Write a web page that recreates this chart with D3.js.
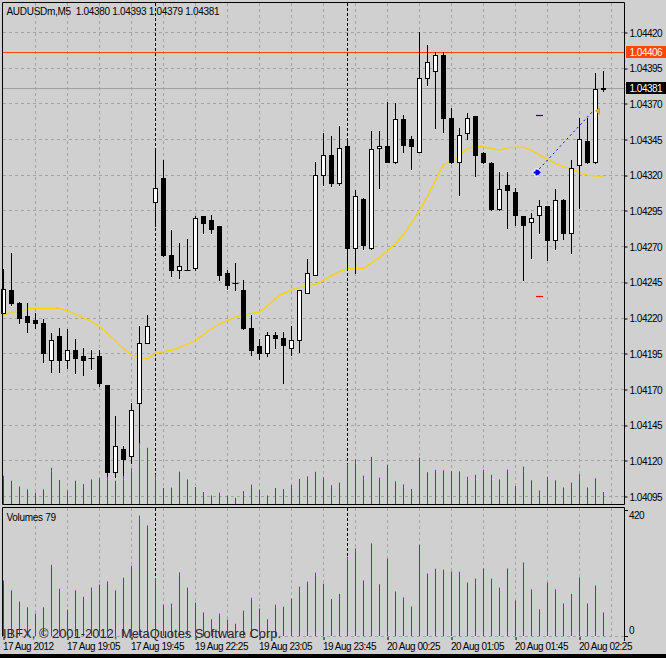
<!DOCTYPE html>
<html lang="en">
<head>
<meta charset="utf-8">
<title>AUDUSDm,M5</title>
<script src="https://d3js.org/d3.v7.min.js"></script>
<style>
  body { margin:0; background:#d0d0d0; overflow:hidden; }
  svg text { font-family:"Liberation Sans", Arial, sans-serif; font-size:10px; fill:#000; }
  .lbl { letter-spacing:-0.5px; }
</style>
</head>
<body>
<svg id="chart" width="666" height="658"></svg>

<script>
// ---- data (M5 bars, oldest first) ----
const barOpen  = [1.04223,1.04239,1.04230,1.04221,1.04218,1.04216,1.04190,1.04207,1.04190,1.04197,
                  1.04193,1.04192,1.04193,1.04173,1.04112,1.04128,1.04123,1.04160,1.04202,1.04301,
                  1.04318,1.04264,1.04253,1.04253,1.04255,1.04291,1.04288,1.04284,1.04251,1.04244,
                  1.04239,1.04213,1.04200,1.04195,1.04208,1.04206,1.04199,1.04204,1.04237,1.04250,
                  1.04320,1.04334,1.04314,1.04340,1.04269,1.04303,1.04269,1.04339,1.04340,1.04329,
                  1.04359,1.04345,1.04336,1.04388,1.04393,1.04404,1.04360,1.04329,1.04349,1.04361,
                  1.04335,1.04328,1.04296,1.04313,1.04308,1.04291,1.04287,1.04292,1.04298,1.04274,
                  1.04302,1.04279,1.04327,1.04344,1.04329,1.04380];
const barHigh  = [1.04254,1.04265,1.04231,1.04230,1.04223,1.04219,1.04209,1.04213,1.04212,1.04205,
                  1.04199,1.04197,1.04197,1.04173,1.04151,1.04130,1.04160,1.04214,1.04222,1.04338,
                  1.04330,1.04281,1.04272,1.04275,1.04291,1.04291,1.04292,1.04284,1.04253,1.04258,
                  1.04246,1.04222,1.04205,1.04210,1.04210,1.04210,1.04214,1.04239,1.04261,1.04329,
                  1.04349,1.04347,1.04354,1.04345,1.04309,1.04304,1.04351,1.04351,1.04371,1.04370,
                  1.04362,1.04347,1.04420,1.04411,1.04406,1.04406,1.04367,1.04353,1.04363,1.04361,
                  1.04336,1.04329,1.04322,1.04322,1.04311,1.04291,1.04293,1.04302,1.04298,1.04310,
                  1.04303,1.04330,1.04360,1.04360,1.04391,1.04393];
const barLow   = [1.04223,1.04229,1.04216,1.04210,1.04213,1.04189,1.04182,1.04182,1.04185,1.04181,
                  1.04180,1.04184,1.04172,1.04109,1.04108,1.04110,1.04118,1.04133,1.04202,1.04284,
                  1.04263,1.04249,1.04248,1.04253,1.04253,1.04279,1.04279,1.04246,1.04240,1.04239,
                  1.04212,1.04194,1.04191,1.04193,1.04199,1.04174,1.04194,1.04196,1.04237,1.04250,
                  1.04313,1.04312,1.04313,1.04254,1.04251,1.04268,1.04268,1.04311,1.04329,1.04328,
                  1.04336,1.04324,1.04336,1.04383,1.04353,1.04350,1.04328,1.04306,1.04345,1.04319,
                  1.04328,1.04295,1.04295,1.04283,1.04285,1.04246,1.04262,1.04279,1.04260,1.04268,
                  1.04275,1.04265,1.04297,1.04328,1.04328,1.04379];
const barClose = [1.04240,1.04230,1.04220,1.04217,1.04216,1.04195,1.04204,1.04190,1.04197,1.04192,
                  1.04190,1.04192,1.04174,1.04112,1.04130,1.04121,1.04155,1.04202,1.04214,1.04311,
                  1.04264,1.04253,1.04256,1.04253,1.04290,1.04286,1.04282,1.04250,1.04243,1.04244,
                  1.04213,1.04197,1.04195,1.04208,1.04206,1.04201,1.04204,1.04239,1.04251,1.04320,
                  1.04334,1.04314,1.04339,1.04269,1.04305,1.04271,1.04338,1.04340,1.04329,1.04359,
                  1.04341,1.04340,1.04388,1.04399,1.04404,1.04360,1.04329,1.04348,1.04360,1.04334,
                  1.04329,1.04296,1.04310,1.04309,1.04292,1.04285,1.04290,1.04298,1.04274,1.04302,
                  1.04279,1.04325,1.04345,1.04329,1.04380,1.04381];
const volumes  = [186,153,115,96,75,96,238,158,88,153,
                  131,162,172,183,153,195,235,403,370,194,
                  105,108,213,162,112,79,56,75,55,41,
                  85,128,92,56,105,98,125,165,182,212,
                  175,124,141,265,293,186,310,173,259,149,
                  129,99,305,209,225,222,216,215,179,192,
                  226,192,162,226,119,246,156,89,179,156,
                  109,141,196,109,169,79];
// yellow moving average
const maValues = [1.042222,1.042239,1.042250,1.042264,1.042268,1.042268,1.042268,1.042268,1.042250,1.042225,
                  1.042201,1.042176,1.042142,1.042091,1.042040,1.041986,1.041940,1.041926,1.041914,1.041952,
                  1.041964,1.041974,1.041994,1.042017,1.042042,1.042084,1.042125,1.042159,1.042182,1.042206,
                  1.042226,1.042232,1.042243,1.042282,1.042338,1.042373,1.042397,1.042415,1.042420,1.042436,
                  1.042466,1.042497,1.042525,1.042546,1.042548,1.042548,1.042585,1.042625,1.042672,1.042721,
                  1.042785,1.042869,1.042953,1.043052,1.043164,1.043276,1.043292,1.043341,1.043388,1.043404,
                  1.043399,1.043388,1.043376,1.043392,1.043397,1.043397,1.043376,1.043341,1.043311,1.043283,
                  1.043259,1.043248,1.043217,1.043201,1.043194,1.043194];

const priceTicks = [1.04420,1.04395,1.04370,1.04345,1.04320,1.04295,1.04270,
                    1.04245,1.04220,1.04195,1.04170,1.04145,1.04120,1.04095];
const timeBars   = [0,8,16,24,32,40,48,56,64,72];
const timeLabels = ["17 Aug 2012","17 Aug 19:05","17 Aug 19:45","19 Aug 22:25","19 Aug 23:05",
                    "19 Aug 23:45","20 Aug 00:25","20 Aug 01:05","20 Aug 01:45","20 Aug 02:25"];
const separatorBars = [19, 43];
const levelPrice = 1.04406;     // orange line
const bidPrice   = 1.04381;     // gray line
const tradeBars   = [67, 74];
const tradePrices = [1.04322, 1.04365];
const tpPrice = 1.04362, slPrice = 1.04235;
const volMax = 420;

// ---- scales ----
const x = d3.scaleLinear().domain([0, 75]).range([3.5, 603.5]);
const y = d3.scaleLinear().domain([1.04095, 1.04420]).range([496.5, 32.5]);
const yVol = d3.scaleLinear().domain([0, volMax]).range([636, 510.5]);
const yVolMain = d3.scaleLinear().domain([0, volMax]).range([504, 440.2]);
const snap = v => Math.floor(v) + 0.5;

const svg = d3.select("#chart");
svg.append("rect").attr("width",666).attr("height",658).attr("fill","#d0d0d0");

// ---- grid ----
const grid = svg.append("g").attr("stroke","#a4a4a4").attr("stroke-dasharray","3,3");
priceTicks.forEach(p => {
	grid.append("line").attr("x1",3).attr("x2",624).attr("y1",snap(y(p))).attr("y2",snap(y(p)));
});
d3.range(4, 77, 4).forEach(b => {
	grid.append("line").attr("x1",x(b)).attr("x2",x(b)).attr("y1",3).attr("y2",504);
	grid.append("line").attr("x1",x(b)).attr("x2",x(b)).attr("y1",508).attr("y2",636);
});
grid.append("line").attr("x1",3).attr("x2",624).attr("y1",636.5).attr("y2",636.5);

// day separators
separatorBars.forEach(b => {
	[[3,504],[508,636]].forEach(r => {
		svg.append("line").attr("x1",x(b)).attr("x2",x(b)).attr("y1",r[0]).attr("y2",r[1])
			.attr("stroke","#000").attr("stroke-dasharray","3,2");
	});
});

// level lines
svg.append("line").attr("x1",3).attr("x2",624).attr("y1",snap(y(bidPrice))).attr("y2",snap(y(bidPrice)))
	.attr("stroke","#a0a0a0");
svg.append("line").attr("x1",3).attr("x2",624).attr("y1",snap(y(levelPrice))).attr("y2",snap(y(levelPrice)))
	.attr("stroke","#ff4500");

// ---- volumes inside the price window ----
svg.append("g").selectAll("line").data(volumes).enter().append("line")
	.attr("x1",(d,i)=>x(i)).attr("x2",(d,i)=>x(i))
	.attr("y1",504).attr("y2",d=>yVolMain(d))
	.attr("stroke","#008000");

// moving average (drawn under the candles)
svg.append("path").datum(maValues)
	.attr("d", d3.line().x((d,i)=>x(i)).y(d=>y(d)))
	.attr("fill","none").attr("stroke","#ffd200").attr("stroke-width",1.3);

// ---- candles ----
const candles = svg.append("g");
barOpen.forEach((o,i) => {
	const c = barClose[i];
	candles.append("line").attr("x1",x(i)).attr("x2",x(i))
		.attr("y1",Math.floor(y(barHigh[i]))).attr("y2",Math.floor(y(barLow[i]))+1)
		.attr("stroke","#000");
	const top = snap(y(Math.max(o,c))), bot = snap(y(Math.min(o,c)));
	if (bot - top < 1) {
		candles.append("line").attr("x1",x(i)-3).attr("x2",x(i)+3).attr("y1",top).attr("y2",top)
			.attr("stroke","#000");
	} else {
		candles.append("rect").attr("x",x(i)-2).attr("width",4)
			.attr("y",top).attr("height",bot-top)
			.attr("fill", c > o ? "#fff" : "#000").attr("stroke","#000");
	}
});

// ---- trade marks ----
svg.append("line")
	.attr("x1",x(tradeBars[0])-3.5).attr("y1",y(tradePrices[0]))
	.attr("x2",x(tradeBars[1])-2.5).attr("y2",y(tradePrices[1]))
	.attr("stroke","#0000ff").attr("stroke-dasharray","2,3");
[[tpPrice,"#0000cc"],[slPrice,"#ff0000"]].forEach(m => {
	svg.append("line").attr("x1",x(tradeBars[0])-3.5).attr("x2",x(tradeBars[0])+3.5)
		.attr("y1",snap(y(m[0]))).attr("y2",snap(y(m[0])))
		.attr("stroke",m[1]).attr("stroke-width",1.2);
});
const cross = svg.append("g").attr("transform","translate("+(x(tradeBars[0])-3)+","+y(tradePrices[0])+")");
cross.append("path").attr("d","M-4,0H4M0,-4V4").attr("stroke","#fff").attr("stroke-width",4);
cross.append("path").attr("d","M-3,0H3M0,-3V3M1,-2L3,0L1,2").attr("stroke","#0000ff").attr("stroke-width",2).attr("fill","none");
const tx = x(tradeBars[1]), ty = y(tradePrices[1]);
svg.append("path").attr("d","M"+(tx-0.5)+","+ty+"L"+(tx+4.5)+","+(ty-4)+"L"+(tx+4.5)+","+(ty+4)+"Z")
	.attr("fill","#daa520");

// ---- volume window ----
svg.append("g").selectAll("line").data(volumes).enter().append("line")
	.attr("x1",(d,i)=>x(i)).attr("x2",(d,i)=>x(i))
	.attr("y1",636).attr("y2",d=>yVol(d))
	.attr("stroke",(d,i)=> (i==0 || d > volumes[i-1]) ? "#008000" : "#ff0000");

// ---- frames ----
const frame = svg.append("g").attr("stroke","#000").attr("fill","none");
frame.append("path").attr("d","M2.5,504.5V2.5H624.5V504.5H2.5");
frame.append("path").attr("d","M2.5,636.5V507.5H624.5V641");

// ---- price axis ----
const pAxis = svg.append("g").attr("transform","translate(624.5,0)")
	.call(d3.axisRight(y).tickValues(priceTicks).tickSize(3).tickPadding(2).tickFormat(d3.format(".5f")));
pAxis.select(".domain").remove();
pAxis.selectAll(".tick line").attr("transform",d=>"translate(0,"+(snap(y(d))-y(d))+")");
pAxis.selectAll("text").attr("class","lbl").attr("dy","0.36em");

// highlighted price labels
[[levelPrice,"#ff4500"],[bidPrice,"#000"]].forEach(m => {
	const yy = snap(y(m[0]));
	svg.append("rect").attr("x",626).attr("y",yy-6.5).attr("width",40).attr("height",12).attr("fill",m[1]);
	svg.append("text").attr("class","lbl").attr("x",629.5).attr("y",yy+3.6)
		.style("fill","#fff").text(d3.format(".5f")(m[0]));
});

// volume axis
[[volMax, yVol(volMax)+8.2],[0, yVol(0)-1.8]].forEach(t => {
	svg.append("line").attr("x1",624.5).attr("x2",628).attr("y1",snap(yVol(t[0]))).attr("y2",snap(yVol(t[0])))
		.attr("stroke","#000");
	svg.append("text").attr("class","lbl").attr("x",629).attr("y",t[1]).text(t[0]);
});

// ---- time axis ----
const tAxis = svg.append("g").attr("transform","translate(0,637)")
	.call(d3.axisBottom(x).tickValues(timeBars).tickSize(3).tickFormat((d,i)=>timeLabels[i]));
tAxis.select(".domain").remove();
tAxis.selectAll("text").attr("class","lbl").attr("text-anchor","start").attr("x",-1);

// ---- texts ----
svg.append("text").attr("x",6.5).attr("y",14.5).style("white-space","pre").style("letter-spacing","-0.3px")
	.text("AUDUSDm,M5  " + [barOpen[75],barHigh[75],barLow[75],barClose[75]].map(d3.format(".5f")).join(" "));
svg.append("text").attr("x",6.5).attr("y",520.5).style("letter-spacing","-0.3px")
	.text("Volumes " + volumes[volumes.length-1]);
svg.append("text").attr("x",3).attr("y",637.5).attr("textLength",278).attr("lengthAdjust","spacingAndGlyphs")
	.style("font-size","12px").style("fill","#262626")
	.text("IBFX, \u00a9 2001-2012, MetaQuotes Software Corp.");

svg.append("rect").attr("x",0).attr("y",654).attr("width",666).attr("height",4).attr("fill","#000");
</script>
</body>
</html>
